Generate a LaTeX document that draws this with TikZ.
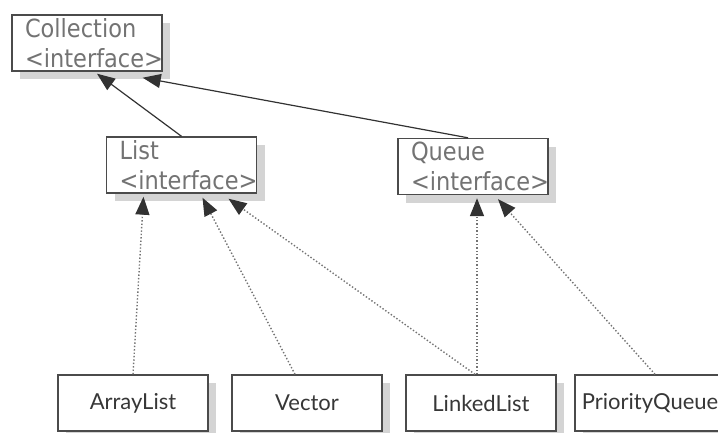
\documentclass[tikz,border=0pt]{standalone}
\usepackage{fontspec}
\newfontfamily\ifacefont[FakeStretch=0.9]{DejaVu Sans}
\newfontfamily\classfont{Lato}
\usetikzlibrary{arrows.meta,shadows}
\definecolor{BoxClr}{RGB}{75,75,75}
\definecolor{IfaceTxt}{RGB}{115,115,115}
\definecolor{ClassTxt}{RGB}{55,55,55}
\definecolor{ShadowClr}{RGB}{212,212,212}
\definecolor{ArrowClr}{RGB}{50,50,50}
\definecolor{DotClr}{RGB}{115,115,115}

\begin{document}
\begin{tikzpicture}[x=1pt,y=-1pt,
  box/.style={draw=BoxClr,line width=1.4pt,fill=white,
    drop shadow={shadow xshift=8pt,shadow yshift=-8pt,fill=ShadowClr,opacity=1}},
  iface/.style={box,text width=124pt,inner xsep=13pt,inner ysep=0pt,
    minimum height=56pt,align=left,text=IfaceTxt,
    font=\ifacefont\fontsize{25}{30}\selectfont},
  klass/.style={box,minimum width=150pt,minimum height=56pt,inner sep=0pt,
    text=ClassTxt,font=\classfont\fontsize{22}{26}\selectfont},
  extends/.style={draw=ArrowClr,line width=1.2pt,
    -{Triangle[length=18pt,width=14pt]}},
  implements/.style={draw=DotClr,line width=1.4pt,dotted,
    -{Triangle[length=18pt,width=14pt,fill=ArrowClr,color=ArrowClr]}}]
\useasboundingbox (0,0) rectangle (718,432);

\node[iface] (collection) at (87,43) {Collection\\<interface>};
\node[iface] (list) at (181.5,165) {List\\<interface>};
\node[iface] (queue) at (473,166.5) {Queue\\<interface>};

\node[klass] (arraylist) at (133,403) {ArrayList};
\node[klass] (vector) at (307,403) {Vector};
\node[klass] (linkedlist) at (481,403) {LinkedList};
\node[klass] (prioqueue) at (650,403) {PriorityQueue};

\draw[extends] (list.north) -- ([xshift=10pt,yshift=-2pt]collection.south);
\draw[extends] ([xshift=-5pt]queue.north) -- ([xshift=-20pt,yshift=-6pt]collection.south east);

\draw[implements] (arraylist.north) -- ([xshift=-38pt,yshift=-3pt]list.south);
\draw[implements] ([xshift=-12pt]vector.north) -- ([xshift=21pt,yshift=-4pt]list.south);
\draw[implements] ([xshift=-6pt]linkedlist.north) -- ([xshift=47pt,yshift=-5pt]list.south);
\draw[implements] ([xshift=-4pt]linkedlist.north) -- ([xshift=4pt,yshift=-3pt]queue.south);
\draw[implements] ([xshift=5pt]prioqueue.north) -- ([xshift=25pt,yshift=-4pt]queue.south);

\end{tikzpicture}
\end{document}
